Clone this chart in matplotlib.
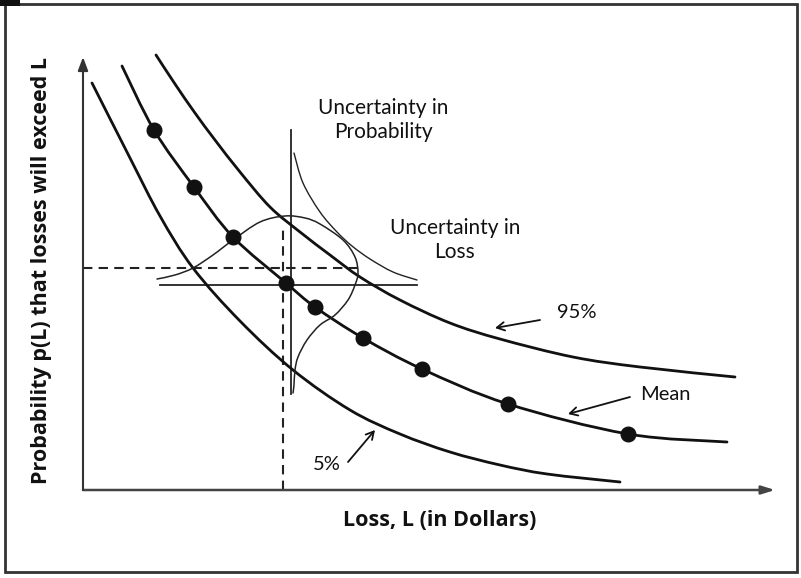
import numpy as np
import matplotlib
matplotlib.use("Agg")
import matplotlib.pyplot as plt
from matplotlib.path import Path
from matplotlib.patches import PathPatch, Rectangle

plt.rcParams['font.family'] = ['Lato', 'DejaVu Sans']

# ---- data (Loss units, Probability units; schematic) ----
p5_loss = [9, 47, 77, 110, 157, 210, 267, 317, 367, 417, 464, 537]
p5_prob = [407, 332, 274, 222, 169, 120, 80, 56, 38, 25, 16, 8]

mean_loss = [39, 71, 111, 150, 203, 232, 280, 339, 425, 545, 644]
mean_prob = [424, 360, 303, 253, 207, 183, 152, 121, 86, 56, 48]

dot_loss = [71, 111, 150, 203, 232, 280, 339, 425, 545]
dot_prob = [360, 303, 253, 207, 183, 152, 121, 86, 56]

p95_loss = [73, 92, 112, 132, 157, 187, 217, 247, 277, 317, 367, 417, 490, 557, 652]
p95_prob = [435, 406, 377, 350, 318, 283, 258, 235, 213, 190, 167, 151, 133, 123, 113]

# uncertainty distributions (schematic bells)
arc_loss = [74, 92, 110, 130, 150, 177, 202, 222, 237, 260, 272, 275, 272, 265, 252,
            237, 224, 215, 212, 211, 210]
arc_prob = [211, 215, 222, 235, 250, 268, 274, 272, 266, 250, 233, 217, 205, 190, 175,
            165, 150, 133, 120, 105, 97]
thin_loss = [211, 220, 237, 254, 269, 287, 310, 334]
thin_prob = [337, 307, 278, 258, 244, 231, 218, 210]

ref_loss = 200      # dashed vertical reference
ref_prob = 222      # dashed horizontal reference
mean_pt_loss = 208  # solid vertical line
mean_pt_prob = 205  # solid horizontal line

labels = {"95%": (494, 177), "Mean": (582, 95), "5%": (244, 25)}
arrows = {"95%": ((457, 170), (412, 162)),
          "Mean": ((547, 93), (485, 76)),
          "5%": ((265, 28), (292, 60))}

# ---- figure ----
fig = plt.figure(figsize=(8.01, 5.78), dpi=100)
ax = fig.add_axes([0, 0, 1, 1])
ax.set_xlim(-83, 718)
ax.set_ylim(-88, 490)
ax.axis('off')


def smooth_path(xs, ys):
    P = np.column_stack([xs, ys]).astype(float)
    n = len(P)
    verts = [P[0]]
    codes = [Path.MOVETO]
    for i in range(n - 1):
        p0 = P[i - 1] if i > 0 else P[i]
        p1 = P[i]
        p2 = P[i + 1]
        p3 = P[i + 2] if i + 2 < n else P[i + 1]
        c1 = p1 + (p2 - p0) / 6.0
        c2 = p2 - (p3 - p1) / 6.0
        verts += [c1, c2, p2]
        codes += [Path.CURVE4] * 3
    return Path(verts, codes)


def draw_curve(xs, ys, lw, color='#111111'):
    ax.add_patch(PathPatch(smooth_path(xs, ys), fill=False, lw=lw,
                           edgecolor=color, capstyle='round', zorder=3))


# reference lines
ax.plot([0, 274], [ref_prob, ref_prob], ls=(0, (4.5, 3)), lw=1.5, color='#222222', zorder=2)
ax.plot([ref_loss, ref_loss], [0, 263], ls=(0, (4.5, 3)), lw=1.5, color='#222222', zorder=2)
ax.plot([77, 334], [mean_pt_prob, mean_pt_prob], lw=1.3, color='#222222', zorder=2)
ax.plot([mean_pt_loss, mean_pt_loss], [96, 360], lw=1.3, color='#222222', zorder=2)

# main curves
draw_curve(p5_loss, p5_prob, 2.0)
draw_curve(mean_loss, mean_prob, 2.0)
draw_curve(p95_loss, p95_prob, 2.0)

# distributions
draw_curve(arc_loss, arc_prob, 1.1, '#222222')
draw_curve(thin_loss, thin_prob, 1.0, '#222222')

# dots
ax.plot(dot_loss, dot_prob, 'o', ms=10.5, color='#111111', zorder=4)

# axes arrows
ax.annotate('', xy=(692, 0), xytext=(0, 0),
            arrowprops=dict(arrowstyle='-|>,head_length=0.8,head_width=0.25',
                            lw=1.8, color='#444444', shrinkA=0, shrinkB=0))
ax.annotate('', xy=(0, 433), xytext=(0, 0),
            arrowprops=dict(arrowstyle='-|>,head_length=0.8,head_width=0.3',
                            lw=1.5, color='#333333', shrinkA=0, shrinkB=0))

# label arrows
for k, (tail, head) in arrows.items():
    ax.annotate('', xy=head, xytext=tail,
                arrowprops=dict(arrowstyle='->,head_length=0.55,head_width=0.3',
                                lw=1.3, color='#111111', shrinkA=0, shrinkB=0))
for k, (x, y) in labels.items():
    ax.text(x, y, k, ha='center', va='center', fontsize=14.5, color='#111111')

ax.text(300, 370, "Uncertainty in\nProbability", ha='center', va='center',
        fontsize=15, color='#111111', linespacing=1.25)
ax.text(372, 250, "Uncertainty in\nLoss", ha='center', va='center',
        fontsize=15, color='#111111', linespacing=1.25)

ax.text(357, -30, "Loss, L (in Dollars)", ha='center', va='center',
        fontsize=15.5, fontweight='bold', color='#111111', family=['Open Sans', 'DejaVu Sans'])
ax.text(-41, 220, "Probability p(L) that losses will exceed L", ha='center', va='center',
        rotation=90, fontsize=15.5, fontweight='bold', color='#111111',
        family=['Open Sans', 'DejaVu Sans'])

# frame
fig.patches.append(Rectangle((5 / 801, 6 / 578), 792 / 801, 568 / 578, fill=False,
                             lw=2, edgecolor='#333333', transform=fig.transFigure))
fig.patches.append(Rectangle((0, 572 / 578), 20 / 801, 6 / 578, fill=True,
                             lw=0, facecolor='#111111', transform=fig.transFigure))

fig.savefig('out.png', dpi=100)
